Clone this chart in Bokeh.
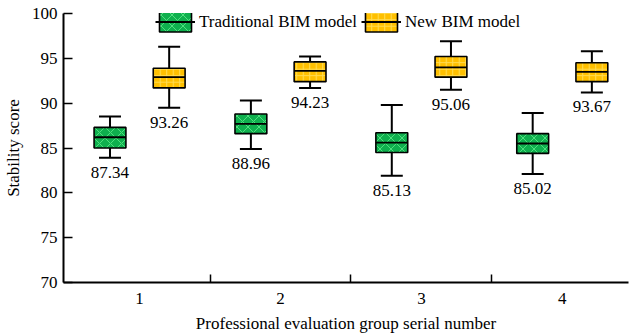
from bokeh.plotting import figure
from bokeh.models import Range1d, FixedTicker, Legend, LegendItem
from bokeh.embed import file_html
from bokeh.resources import INLINE
from bokeh.core.properties import value

# ---- data ----
groups = [1, 2, 3, 4]
group_labels = ["1", "2", "3", "4"]
series_names = ["Traditional BIM model", "New BIM model"]

trad_low = [83.9, 84.9, 81.9, 82.1]
trad_q1 = [85.0, 86.6, 84.5, 84.4]
trad_median = [86.2, 87.7, 85.6, 85.5]
trad_q3 = [87.3, 88.8, 86.7, 86.6]
trad_high = [88.5, 90.3, 89.8, 88.9]
trad_labels = ["87.34", "88.96", "85.13", "85.02"]

new_low = [89.5, 91.7, 91.5, 91.2]
new_q1 = [91.7, 92.4, 92.9, 92.4]
new_median = [92.9, 93.6, 94.0, 93.5]
new_q3 = [93.9, 94.6, 95.2, 94.5]
new_high = [96.3, 95.2, 96.9, 95.8]
new_labels = ["93.26", "94.23", "95.06", "93.67"]

y_ticks = [70, 75, 80, 85, 90, 95, 100]

# ---- styling ----
FONT = "Liberation Serif"
FS = "17px"
offset = 0.21
box_w = 0.226
cap_w = 0.156

p = figure(width=630, height=335, x_range=Range1d(0.46, 4.47), y_range=Range1d(70, 100),
           output_backend="svg", toolbar_location=None,
           min_border_left=62, min_border_right=2, min_border_top=13, min_border_bottom=53)
p.outline_line_color = None
p.xgrid.visible = False
p.ygrid.visible = False
p.background_fill_color = "white"

def draw_series(xs, low, q1, med, q3, high, labels, fill, hatch_color, hatch, hscale):
    xl = [x - box_w / 2 for x in xs]
    xr = [x + box_w / 2 for x in xs]
    cl = [x - cap_w / 2 for x in xs]
    cr = [x + cap_w / 2 for x in xs]
    p.segment(x0=xs, y0=low, x1=xs, y1=high, line_color="black", line_width=2)
    box = p.quad(left=xl, right=xr, bottom=q1, top=q3, fill_color=fill,
                 hatch_pattern=hatch, hatch_color=hatch_color, hatch_scale=hscale,
                 hatch_weight=1, line_color="black", line_width=1.6)
    med_r = p.segment(x0=xl, y0=med, x1=xr, y1=med, line_color="black", line_width=1.8)
    p.segment(x0=cl, y0=low, x1=cr, y1=low, line_color="black", line_width=2)
    p.segment(x0=cl, y0=high, x1=cr, y1=high, line_color="black", line_width=2)
    p.text(x=xs, y=low, text=labels, text_align="center", text_baseline="top",
           y_offset=9, text_font=value(FONT), text_font_size=FS, text_color="black")
    return box, med_r

xs_t = [g - offset for g in groups]
xs_n = [g + offset for g in groups]
bt, mt = draw_series(xs_t, trad_low, trad_q1, trad_median, trad_q3, trad_high, trad_labels,
                     "#0fb04e", "#4fe07e", "x", 11)
bn, mn = draw_series(xs_n, new_low, new_q1, new_median, new_q3, new_high, new_labels,
                     "#ffc000", "#ffdd55", "+", 6.5)

legend = Legend(items=[LegendItem(label=series_names[0], renderers=[bt, mt]),
                       LegendItem(label=series_names[1], renderers=[bn, mn])],
                orientation="horizontal", location=(92, 248), glyph_width=40, glyph_height=25,
                label_standoff=4, padding=0, margin=0, spacing=4,
                background_fill_alpha=0, border_line_color=None,
                label_text_font=FONT, label_text_font_size=FS, label_text_color="black")
p.add_layout(legend, "center")

# axes
p.yaxis.ticker = FixedTicker(ticks=y_ticks)
p.yaxis.major_tick_in = 9
p.yaxis.major_tick_out = 0
p.yaxis.minor_tick_line_color = None
p.yaxis.major_label_standoff = 6
p.yaxis.axis_label = "Stability score"

p.xaxis.ticker = FixedTicker(ticks=groups, minor_ticks=[g + 0.5 for g in groups[:-1]])
p.xaxis.major_label_overrides = {g: s for g, s in zip(groups, group_labels)}
p.xaxis.major_tick_in = 0
p.xaxis.major_tick_out = 0
p.xaxis.minor_tick_in = 8
p.xaxis.minor_tick_out = 0
p.xaxis.major_label_standoff = 10
p.xaxis.axis_label = "Professional evaluation group serial number"

for ax in (p.xaxis, p.yaxis):
    ax.axis_line_width = 2
    ax.axis_line_color = "black"
    ax.major_tick_line_width = 1.5
    ax.major_tick_line_color = "black"
    ax.minor_tick_line_width = 1.5
    ax.minor_tick_line_color = "black"
    ax.major_label_text_font = FONT
    ax.major_label_text_font_size = FS
    ax.major_label_text_color = "black"
    ax.axis_label_text_font = FONT
    ax.axis_label_text_font_size = FS
    ax.axis_label_text_font_style = "normal"
    ax.axis_label_text_color = "black"
p.xaxis.axis_label_standoff = 7
p.yaxis.axis_label_standoff = 6

open("out.html", "w").write(file_html(p, INLINE))
